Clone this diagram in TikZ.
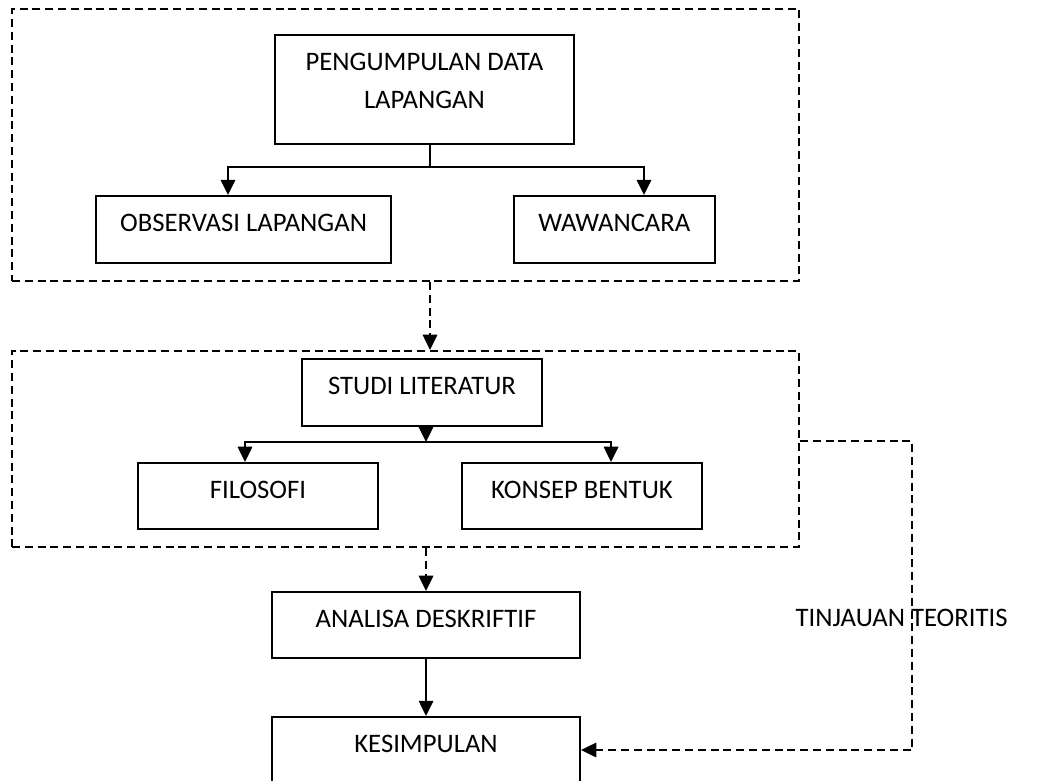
\documentclass[tikz,border=0pt]{standalone}
\usepackage{fontspec}
\setmainfont{Carlito}
\usetikzlibrary{arrows.meta}

\begin{document}
\begin{tikzpicture}[> = {Triangle[length = 0.38cm, width = 0.36cm]},
	every node/.style = {font = \fontsize{19}{27}\selectfont},
	box/.style = {draw, line width = 1.5pt, minimum height = 1.675cm, inner sep = 0pt, text height = 0.45cm, text depth = 0.33cm},
	frame/.style = {draw, line width = 1.5pt, dash pattern = on 0.2cm off 0.12cm, inner sep = 0pt},
	link/.style = {->, line width = 1.5pt},
	dlink/.style = {->, line width = 1.5pt, dash pattern = on 0.2cm off 0.12cm}]

	% Page

	\useasboundingbox (0, 0) rectangle (25.925, -19.525);

	% Dashed frames

	\node (field) [frame, minimum width = 19.675cm, minimum height = 6.8cm] at (10.1375, -3.625) {};
	\node (theory) [frame, minimum width = 19.675cm, minimum height = 4.9cm] at (10.1375, -11.225) {};

	% Field data

	\node (pengumpulan) [box, align = center, minimum width = 7.475cm, minimum height = 2.725cm, text height = 1.4cm, text depth = 0.475cm] at (10.61, -2.24) {PENGUMPULAN DATA\\LAPANGAN};
	\node (observasi) [box, minimum width = 7.375cm] at (6.09, -5.74) {OBSERVASI LAPANGAN};
	\node (wawancara) [box, minimum width = 5.025cm] at (15.36, -5.74) {WAWANCARA};

	\coordinate (split1) at (10.75, -4.175);
	\coordinate (obs in) at (5.7, -4.175);
	\coordinate (waw in) at (16.1, -4.175);

	\draw [line width = 1.5pt] (pengumpulan.south -| split1) -- (split1);
	\draw [link] (split1) -| (obs in |- observasi.north);
	\draw [link] (split1) -| (waw in |- wawancara.north);

	% Literature

	\draw [dlink] (field.south -| split1) -- (theory.north -| split1);

	\node (studi) [box, minimum width = 6cm] at (10.55, -9.81) {STUDI LITERATUR};
	\node (filosofi) [box, minimum width = 6cm, minimum height = 1.65cm] at (6.45, -12.4) {FILOSOFI};
	\node (konsep) [box, minimum width = 6cm, minimum height = 1.65cm] at (14.55, -12.4) {KONSEP BENTUK};

	\coordinate (split2) at (10.65, -11.05);
	\coordinate (fil in) at (6.125, -11.05);
	\coordinate (kon in) at (15.275, -11.05);

	\draw [link] (studi.south -| split2) -- (split2);
	\draw [link] (split2) -| (fil in |- filosofi.north);
	\draw [link] (split2) -| (kon in |- konsep.north);

	% Analysis and conclusion

	\node (analisa) [box, minimum width = 7.7cm, minimum height = 1.65cm] at (10.65, -15.625) {ANALISA DESKRIFTIF};
	\node (kesimpulan) [box, minimum width = 7.7cm, minimum height = 1.65cm] at (10.65, -18.75) {KESIMPULAN};

	\draw [dlink] (theory.south -| analisa.north) -- (analisa.north);
	\draw [link] (analisa) -- (kesimpulan);

	% Theory review

	\coordinate (bend) at (22.8, -11.025);
	\draw [dlink] (theory.east |- bend) -- (bend) |- (kesimpulan.east);

	\node (tinjauan) at (22.54, -15.45) {TINJAUAN TEORITIS};

\end{tikzpicture}
\end{document}
